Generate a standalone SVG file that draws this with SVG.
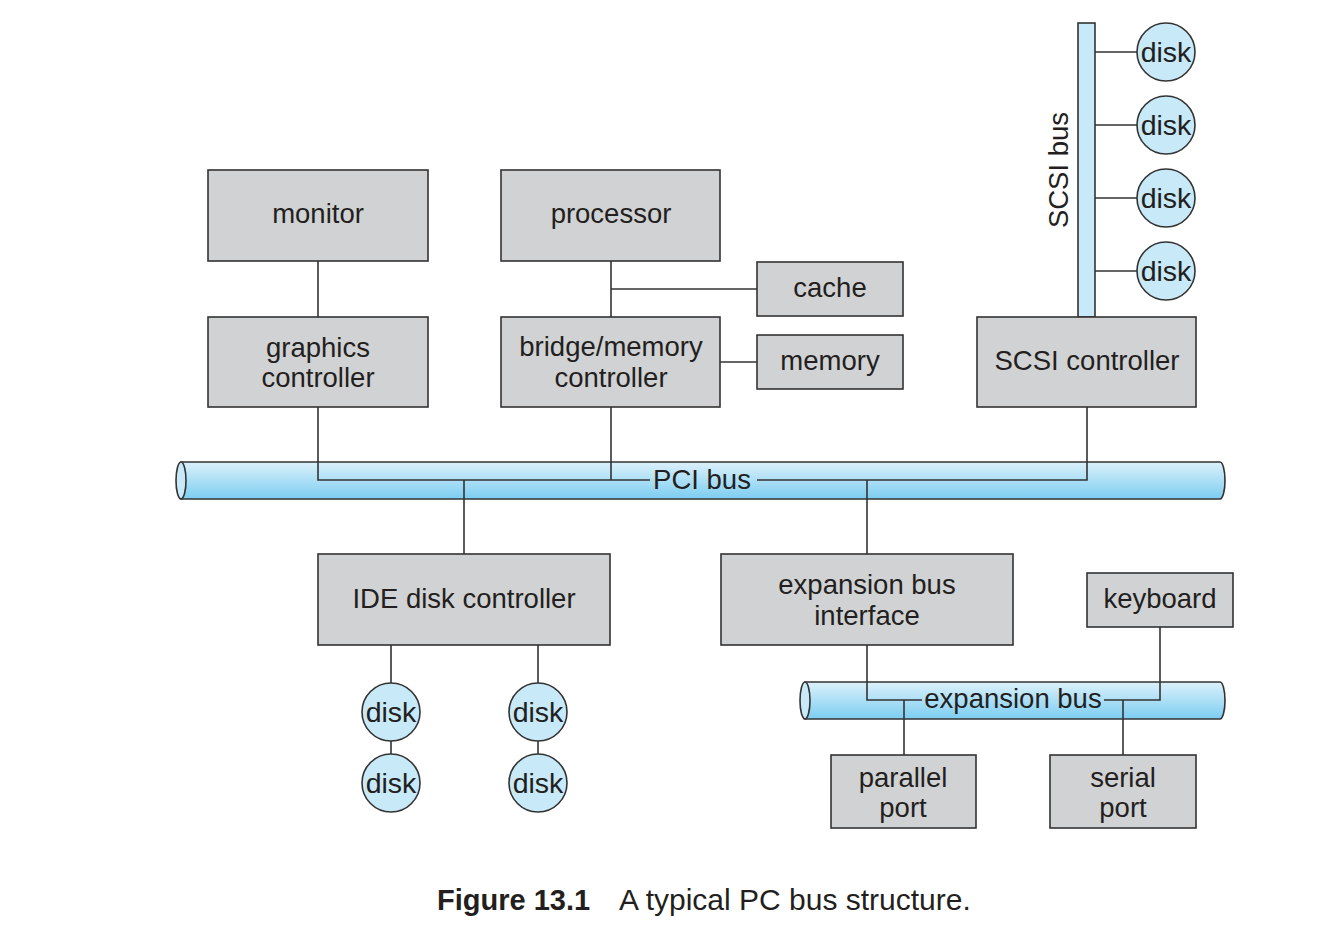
<svg xmlns="http://www.w3.org/2000/svg" width="1339" height="925" viewBox="0 0 1339 925">
<defs>
<linearGradient id="busg" x1="0" y1="0" x2="0" y2="1">
<stop offset="0" stop-color="#dcf1fb"/>
<stop offset="1" stop-color="#7ccdf1"/>
</linearGradient>
<style>
.box{fill:#d1d2d4;stroke:#333;stroke-width:1.6}
.t{font-family:"Liberation Sans",Arial,sans-serif;font-size:27.5px;fill:#231f20;text-anchor:middle}
.d{font-size:28.5px}
.ln{stroke:#333;stroke-width:1.6;fill:none}
.disk{fill:#c8e9f8;stroke:#333;stroke-width:1.6}
.bus{fill:url(#busg);stroke:#333;stroke-width:1.6}
.cap{fill:#c8e9f8;stroke:#333;stroke-width:1.6}
</style>
</defs>
<rect width="1339" height="925" fill="#fff"/>

<g id="pci-bus">
<path class="bus" d="M181,462 H1220 A5,18.5 0 0 1 1220,499 H181 Z"/>
<ellipse class="cap" cx="181" cy="480.5" rx="5" ry="18.5"/>
</g>
<g id="expansion-bus">
<path class="bus" d="M805,682 H1220 A5,18.5 0 0 1 1220,719 H805 Z"/>
<ellipse class="cap" cx="805" cy="700.5" rx="5" ry="18.5"/>
</g>
<g id="scsi-bus">
<rect x="1078" y="23" width="17" height="294" fill="#c8e9f8" stroke="#333" stroke-width="1.6"/>
<text class="t" transform="translate(1068,170) rotate(-90)">SCSI bus</text>
</g>

<g id="connectors">
<path class="ln" d="M318,261 V317"/>
<path class="ln" d="M611,261 V317 M611,289 H757"/>
<path class="ln" d="M720,362 H757"/>
<path class="ln" d="M318,407 V480 H650 M757,480 H1087 V407"/>
<path class="ln" d="M611,407 V480"/>
<path class="ln" d="M464,480 V554"/>
<path class="ln" d="M867,480 V554"/>
<path class="ln" d="M1095,52 H1137 M1095,125 H1137 M1095,198 H1137 M1095,271 H1137"/>
<path class="ln" d="M391,645 V683 M391,741 V754 M538,645 V683 M538,741 V754"/>
<path class="ln" d="M867,645 V700 H922 M1104,700 H1160 V627"/>
<path class="ln" d="M904,700 V755 M1123,700 V755"/>
<text class="t" x="702" y="489">PCI bus</text>
<text class="t" x="1013" y="708">expansion bus</text>
</g>

<g id="monitor"><rect class="box" x="208" y="170" width="220" height="91"/><text class="t" x="318" y="223">monitor</text></g>
<g id="processor"><rect class="box" x="501" y="170" width="219" height="91"/><text class="t" x="611" y="223">processor</text></g>
<g id="cache"><rect class="box" x="757" y="262" width="146" height="54"/><text class="t" x="830" y="297">cache</text></g>
<g id="graphics-controller"><rect class="box" x="208" y="317" width="220" height="90"/><text class="t" x="318" y="357">graphics</text><text class="t" x="318" y="387">controller</text></g>
<g id="bridge-memory-controller"><rect class="box" x="501" y="317" width="219" height="90"/><text class="t" x="611" y="356">bridge/memory</text><text class="t" x="611" y="387">controller</text></g>
<g id="memory"><rect class="box" x="757" y="335" width="146" height="54"/><text class="t" x="830" y="370">memory</text></g>
<g id="scsi-controller"><rect class="box" x="977" y="317" width="219" height="90"/><text class="t" x="1087" y="370">SCSI controller</text></g>
<g id="ide-disk-controller"><rect class="box" x="318" y="554" width="292" height="91"/><text class="t" x="464" y="608">IDE disk controller</text></g>
<g id="expansion-bus-interface"><rect class="box" x="721" y="554" width="292" height="91"/><text class="t" x="867" y="594">expansion bus</text><text class="t" x="867" y="625">interface</text></g>
<g id="keyboard"><rect class="box" x="1087" y="573" width="146" height="54"/><text class="t" x="1160" y="608">keyboard</text></g>
<g id="parallel-port"><rect class="box" x="831" y="755" width="145" height="73"/><text class="t" x="903" y="787">parallel</text><text class="t" x="903" y="817">port</text></g>
<g id="serial-port"><rect class="box" x="1050" y="755" width="146" height="73"/><text class="t" x="1123" y="787">serial</text><text class="t" x="1123" y="817">port</text></g>

<g id="scsi-disk-1"><circle class="disk" cx="1166" cy="52" r="29"/><text class="t d" x="1166" y="62">disk</text></g>
<g id="scsi-disk-2"><circle class="disk" cx="1166" cy="125" r="29"/><text class="t d" x="1166" y="135">disk</text></g>
<g id="scsi-disk-3"><circle class="disk" cx="1166" cy="198" r="29"/><text class="t d" x="1166" y="208">disk</text></g>
<g id="scsi-disk-4"><circle class="disk" cx="1166" cy="271" r="29"/><text class="t d" x="1166" y="281">disk</text></g>
<g id="ide-disk-1"><circle class="disk" cx="391" cy="712" r="29"/><text class="t d" x="391" y="722">disk</text></g>
<g id="ide-disk-2"><circle class="disk" cx="391" cy="783" r="29"/><text class="t d" x="391" y="793">disk</text></g>
<g id="ide-disk-3"><circle class="disk" cx="538" cy="712" r="29"/><text class="t d" x="538" y="722">disk</text></g>
<g id="ide-disk-4"><circle class="disk" cx="538" cy="783" r="29"/><text class="t d" x="538" y="793">disk</text></g>

<g id="caption">
<text x="437" y="910" font-family="Liberation Sans,Arial,sans-serif" font-size="29" font-weight="bold" fill="#231f20">Figure 13.1</text>
<text x="619" y="910" font-family="Liberation Sans,Arial,sans-serif" font-size="30" fill="#231f20">A typical PC bus structure.</text>
</g>
</svg>
